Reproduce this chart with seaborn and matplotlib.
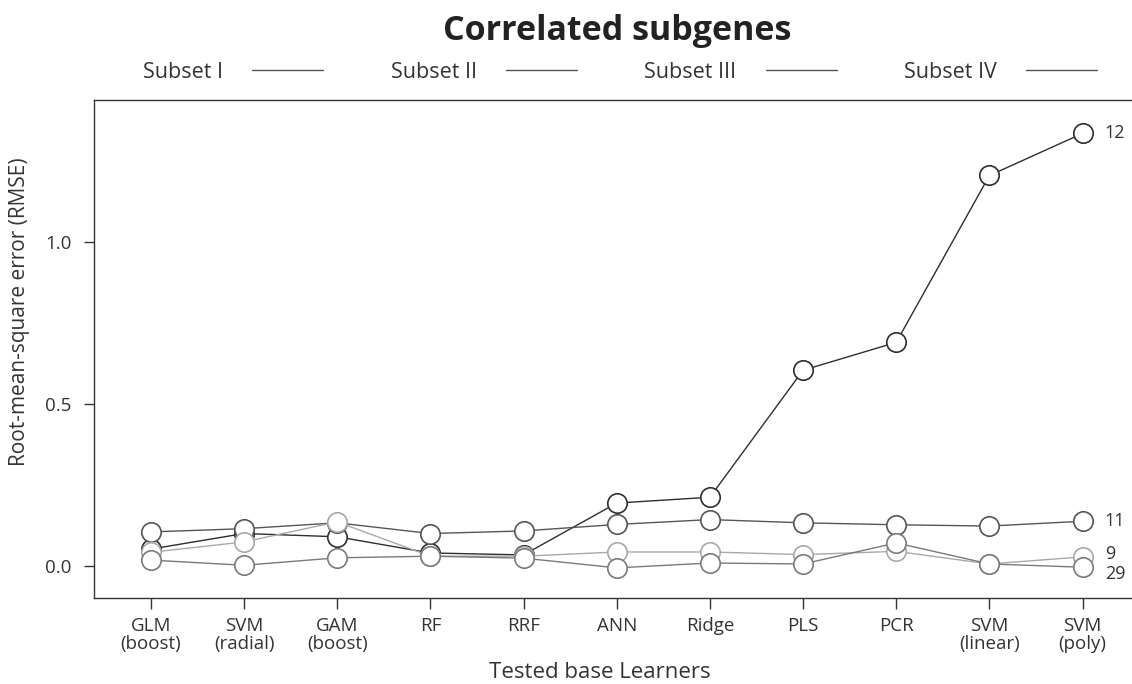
import matplotlib
matplotlib.use("Agg")
import matplotlib.pyplot as plt
import seaborn as sns
import pandas as pd
from matplotlib.lines import Line2D

learners = ["GLM\n(boost)", "SVM\n(radial)", "GAM\n(boost)", "RF", "RRF", "ANN",
            "Ridge", "PLS", "PCR", "SVM\n(linear)", "SVM\n(poly)"]
subsets = ["Subset I", "Subset II", "Subset III", "Subset IV"]
end_labels = ["12", "11", "9", "29"]

rmse_s1 = [0.052, 0.100, 0.090, 0.040, 0.034, 0.194, 0.212, 0.604, 0.690, 1.205, 1.335]
rmse_s2 = [0.105, 0.115, 0.133, 0.100, 0.108, 0.128, 0.143, 0.133, 0.127, 0.123, 0.138]
rmse_s3 = [0.042, 0.074, 0.136, 0.030, 0.030, 0.043, 0.043, 0.035, 0.045, 0.006, 0.028]
rmse_s4 = [0.018, 0.002, 0.025, 0.030, 0.024, -0.006, 0.009, 0.006, 0.071, 0.006, -0.004]
series = [rmse_s1, rmse_s2, rmse_s3, rmse_s4]

colors = ["#2e2e2e", "#555555", "#a8a8a8", "#7a7a7a"]
label_dy = [0, 0, 2, -5]   # small vertical nudges (points) for end labels

sns.set_theme(style="white")
plt.rcParams["font.family"] = ["Open Sans", "DejaVu Sans"]

W, H = 1132, 684
fig = plt.figure(figsize=(W / 100, H / 100), dpi=100)
ax = fig.add_axes([94 / W, 1 - 598 / H, 1 - 94 / W, (598 - 100) / H])

for name, vals, col, lab, dy in zip(subsets, series, colors, end_labels, label_dy):
    df = pd.DataFrame({"pos": range(len(learners)), "rmse": vals})
    sns.lineplot(data=df, x="pos", y="rmse", ax=ax, color=col, lw=1.0,
                 marker="o", markersize=14, markerfacecolor="white",
                 markeredgecolor=col, markeredgewidth=1.2, legend=False)
    ax.annotate(lab, xy=(len(learners) - 1, vals[-1]), xytext=(16, dy),
                textcoords="offset points", va="center", ha="left",
                fontsize=13, color="#333333")

ax.set_xlim(-0.61, 10.53)
ax.set_ylim(-0.099, 1.438)
ax.set_xticks(range(len(learners)))
ax.set_xticklabels(learners, fontsize=13.5, color="#333333", linespacing=1.0)
ax.set_yticks([0.0, 0.5, 1.0])
ax.set_yticklabels(["0.0", "0.5", "1.0"], fontsize=13.5, color="#333333")
ax.tick_params(axis="x", direction="out", length=8, width=1, color="#333333",
               bottom=True, pad=6)
ax.tick_params(axis="y", direction="out", length=7, width=1, color="#333333",
               left=True, pad=9)
for s in ["left", "bottom", "top"]:
    ax.spines[s].set_color("#333333")
    ax.spines[s].set_linewidth(1.0)
ax.spines["right"].set_visible(False)
ax.set_xlabel("Tested base Learners", fontsize=16, color="#333333")
ax.xaxis.set_label_coords(0.4875, -0.128)
ax.set_ylabel("Root-mean-square error (RMSE)", fontsize=15, color="#333333")
ax.yaxis.set_label_coords(-0.062, 0.574)

fig.text(617 / W, 1 - 31 / H, "Correlated subgenes", ha="center", va="center",
         fontsize=24.5, fontweight="bold", color="#222222")

handles = [Line2D([0], [0], color="#555555", lw=1.0) for _ in subsets]
leg = fig.legend(handles, subsets, loc="center", bbox_to_anchor=(620 / W, 1 - 72 / H),
                 ncol=4, frameon=False, markerfirst=False, handlelength=3.3,
                 columnspacing=3.15, handletextpad=1.35, fontsize=15.5,
                 borderpad=0, borderaxespad=0)
for t in leg.get_texts():
    t.set_color("#333333")

fig.savefig("out.png", dpi=100)
